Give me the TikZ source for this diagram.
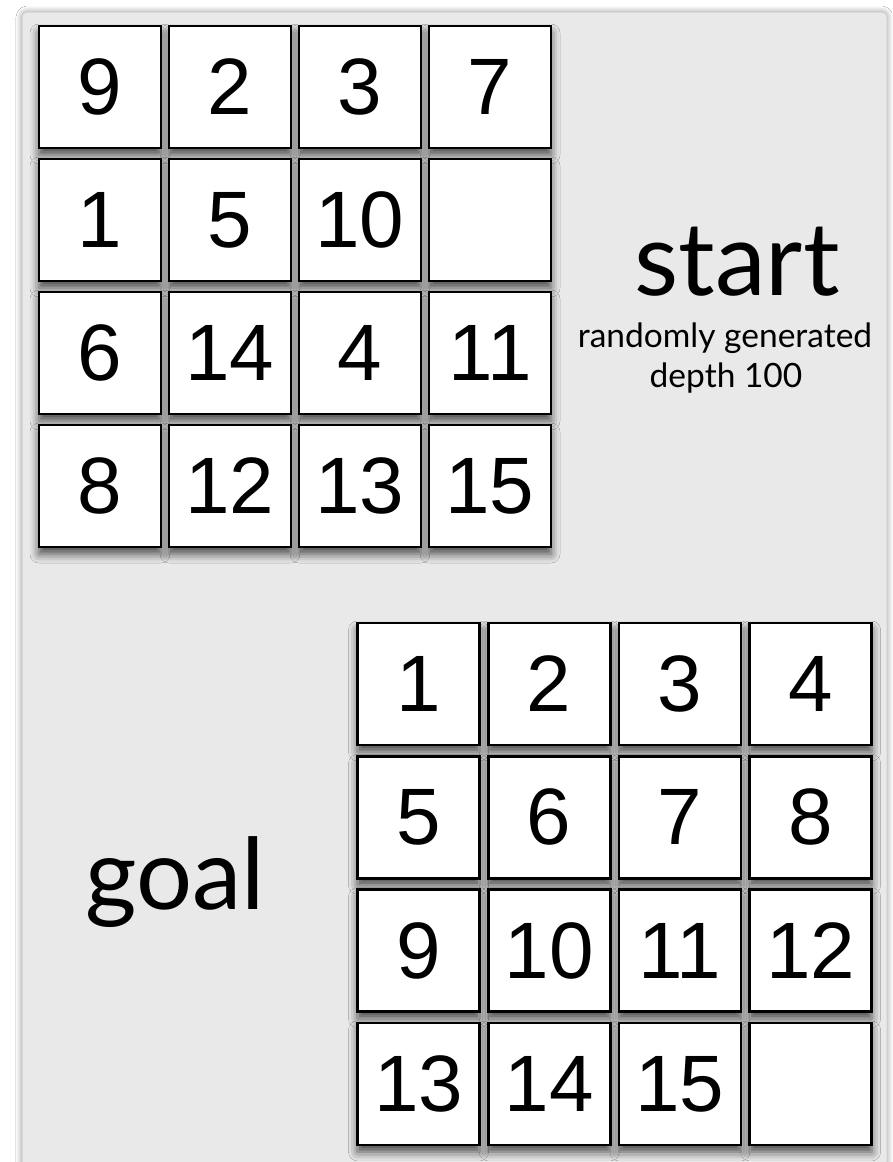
\documentclass[tikz,border=0pt]{standalone}
\usepackage{fontspec}
\setmainfont{Liberation Sans}
\newfontfamily\labelfont{Lato}
\usetikzlibrary{shadows.blur}
\definecolor{panelgray}{RGB}{233,233,233}
\definecolor{panelline}{RGB}{210,210,210}
\tikzset{
  tile/.style={draw=black, fill=white, line width=2.6pt, minimum width=122pt, minimum height=122pt,
    inner sep=0pt, font=\fontsize{80}{80}\selectfont,
    blur shadow={shadow xshift=0pt, shadow yshift=-7pt, shadow blur radius=9pt, shadow opacity=70}},
  biglabel/.style={anchor=base, inner sep=0pt},
}
\begin{document}
\begin{tikzpicture}[x=1pt,y=-1pt]
\useasboundingbox (0,0) rectangle (892,1162);
\fill[white] (0,0) rectangle (892,1162);
\path[fill=panelgray, draw=panelline, line width=1pt, rounded corners=5pt,
  blur shadow={shadow xshift=0pt, shadow yshift=0pt, shadow blur radius=6pt, shadow opacity=45}]
  (22,12) rectangle (887,1190);
% start grid
\foreach \t [count=\i from 0] in {9,2,3,7,1,5,10,{},6,14,4,11,8,12,13,15}{
  \pgfmathtruncatemacro{\c}{mod(\i,4)}
  \pgfmathtruncatemacro{\r}{div(\i,4)}
  \node[tile] (s\i) at (100+130*\c, 87+133*\r) {\t};
}
% goal grid
\foreach \t [count=\i from 0] in {1,2,3,4,5,6,7,8,9,10,11,12,13,14,15,{}}{
  \pgfmathtruncatemacro{\c}{mod(\i,4)}
  \pgfmathtruncatemacro{\r}{div(\i,4)}
  \node[tile] (g\i) at (418.5+130.7*\c, 684+133.3*\r) {\t};
}
\node[biglabel, font=\labelfont\fontsize{102}{102}\selectfont] (start) at (737,295) {start};
\node[biglabel, font=\labelfont\fontsize{33.5}{33.5}\selectfont] (rand) at (725,347) {randomly generated};
\node[biglabel, font=\labelfont\fontsize{33.5}{33.5}\selectfont] (depth) at (726,387) {depth 100};
\node[biglabel, font=\labelfont\fontsize{99}{99}\selectfont] (goal) at (175.5,909) {goal};
\end{tikzpicture}
\end{document}
